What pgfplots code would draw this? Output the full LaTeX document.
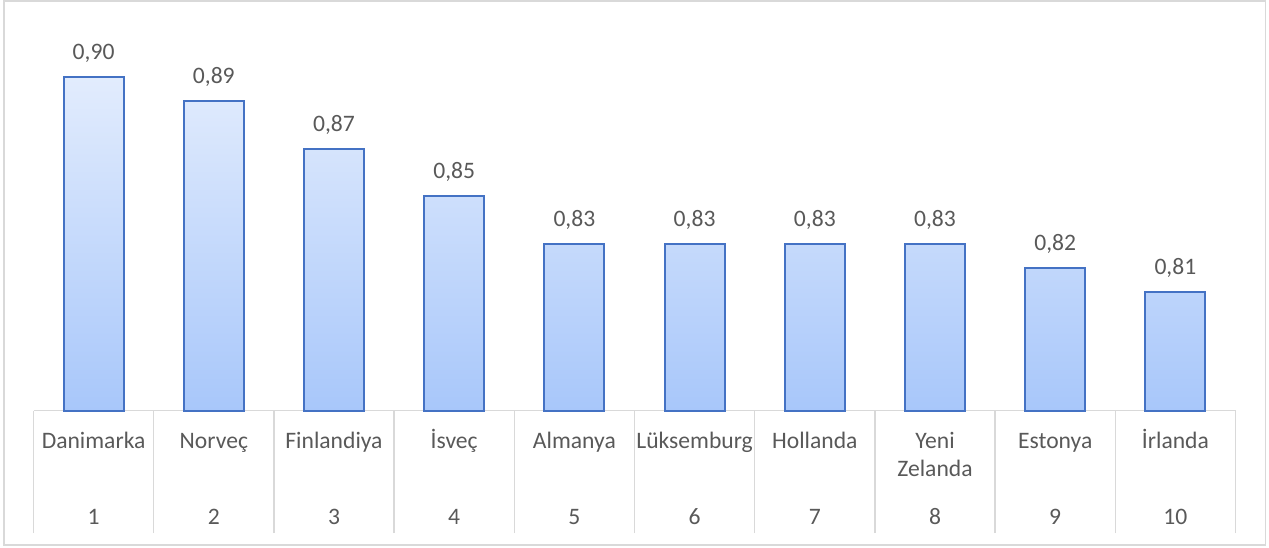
\documentclass[border=0pt]{standalone}
\usepackage{pgfplots}
\pgfplotsset{compat=1.18}
\usepackage{fontspec}
\setmainfont{Carlito}
\definecolor{txt}{RGB}{89,89,89}
\definecolor{grid}{RGB}{217,217,217}
\definecolor{edge}{RGB}{68,114,196}
\definecolor{bartop}{RGB}{226,236,253}
\definecolor{barbot}{RGB}{168,199,250}
\begin{document}
\begin{tikzpicture}
  \useasboundingbox (-16.75pt,-68.25pt) rectangle (617.75pt,205.25pt);
  \draw[grid, line width=0.75pt] (-14.75pt,-67.25pt) rectangle (616pt,204.75pt);
  \begin{axis}[
    scale only axis,
    width=601pt, height=190.6pt,
    ybar, bar width=30pt,
    xmin=0.5, xmax=10.5,
    ymin=0.7604, ymax=0.92,
    axis x line=bottom, axis y line=none,
    x axis line style={-, draw=grid, line width=0.75pt},
    ytick=\empty,
    xtick={1,...,10},
    major tick length=0pt,
    xticklabels={
      {\strut Danimarka\\[23.8pt]1},
      {\strut Norveç\\[23.8pt]2},
      {\strut Finlandiya\\[23.8pt]3},
      {\strut İsveç\\[23.8pt]4},
      {\strut Almanya\\[23.8pt]5},
      {\strut Lüksemburg\\[23.8pt]6},
      {\strut Hollanda\\[23.8pt]7},
      {\strut Yeni\\Zelanda\\[9.6pt]8},
      {\strut Estonya\\[23.8pt]9},
      {\strut İrlanda\\[23.8pt]10}},
    xticklabel style={font=\fontsize{11.8}{14.2}\selectfont, text=txt,
      align=center, anchor=north, inner sep=0pt, yshift=-8.8pt},
    extra x ticks={0.5,1.5,...,10.5},
    extra x tick labels={},
    extra x tick style={major tick length=61.25pt, tick align=outside,
      tick style={draw=grid, line width=0.75pt}},
    clip=false,
    nodes near coords,
    /pgf/number format/.cd, fixed, fixed zerofill, precision=2, use comma,
      assume math mode=true,
    /pgfplots/.cd,
    every node near coord/.append style={font=\fontsize{11.8}{14.2}\selectfont,
      text=txt, anchor=base, yshift=8.8pt},
  ]
    \addplot[draw=edge, line width=1pt, top color=bartop, bottom color=barbot]
      coordinates {
        (1,0.90) (2,0.89) (3,0.87) (4,0.85) (5,0.83)
        (6,0.83) (7,0.83) (8,0.83) (9,0.82) (10,0.81)
      };
  \end{axis}
\end{tikzpicture}
\end{document}
